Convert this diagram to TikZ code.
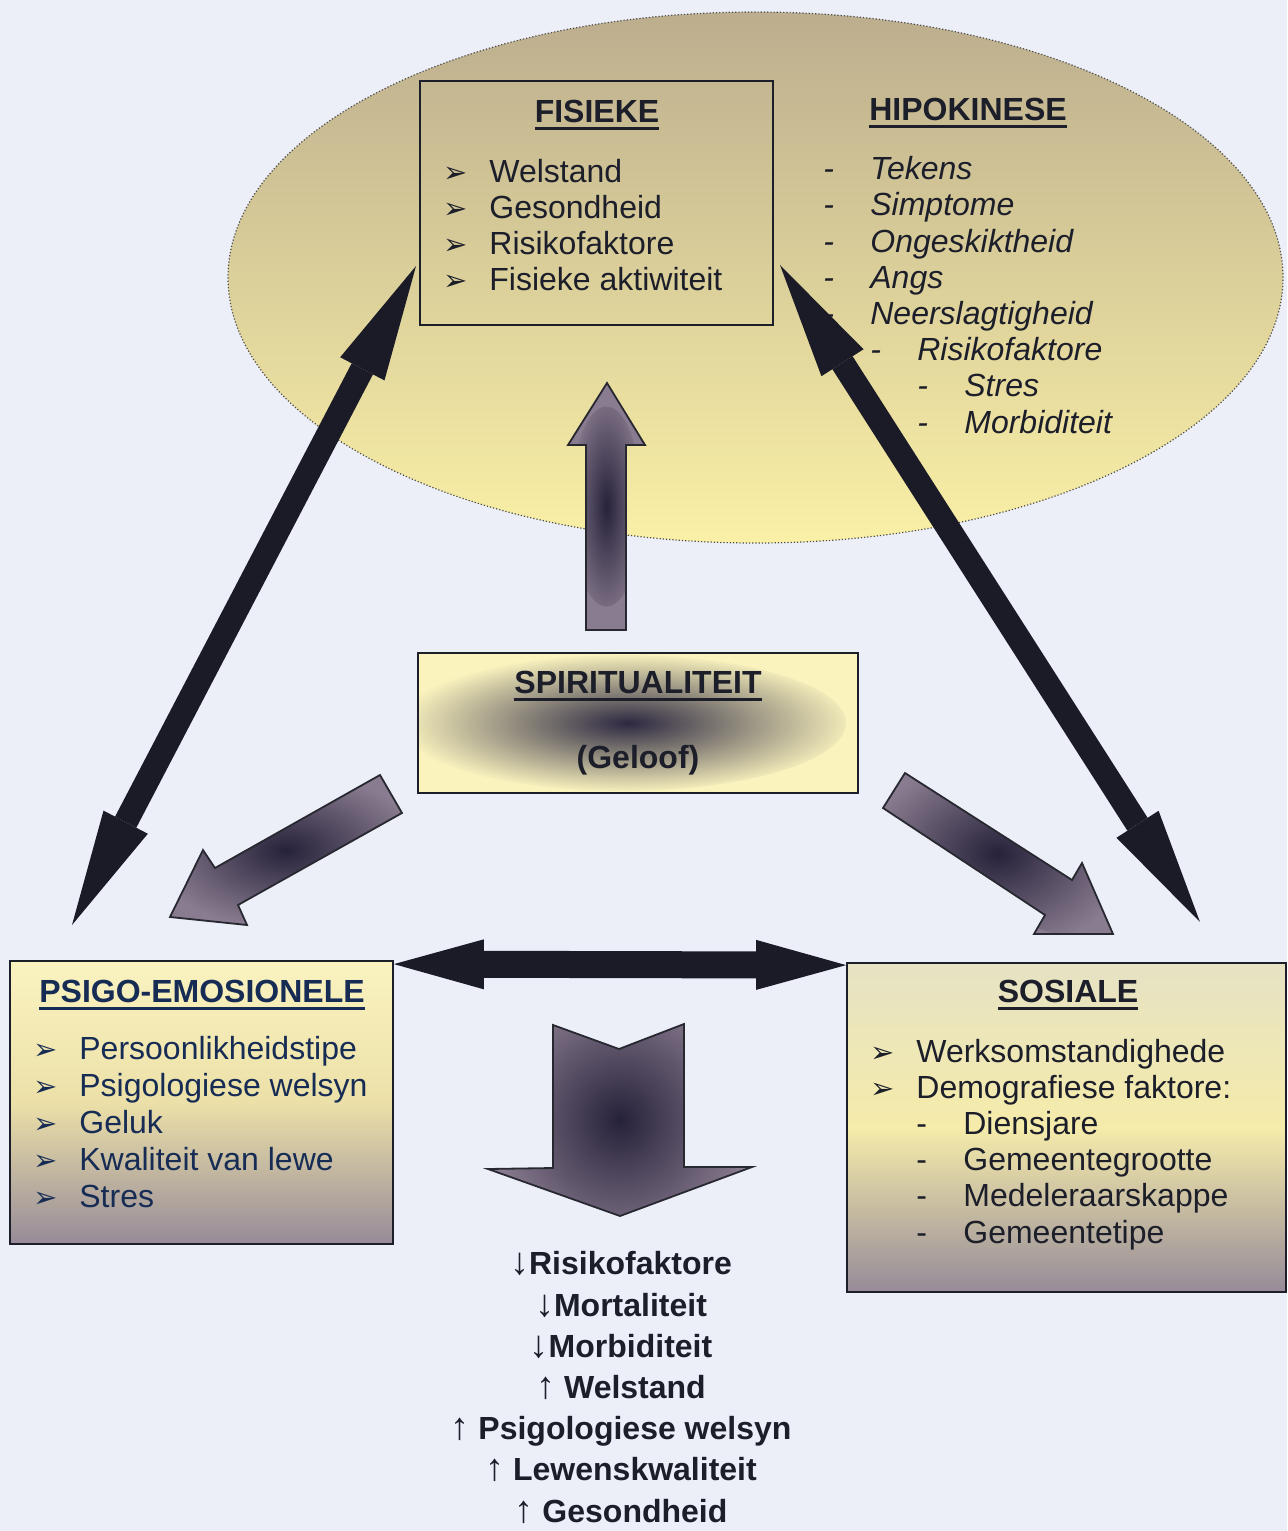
\documentclass[tikz,border=0pt]{standalone}
\usepackage{fontspec}
\setmainfont{Liberation Sans}
\newfontfamily\dingfont{DejaVu Sans}
\usetikzlibrary{arrows.meta,positioning,calc,shapes.geometric}
\definecolor{bgcol}{RGB}{236,239,248}
\definecolor{txt}{RGB}{28,30,42}
\definecolor{psitxt}{RGB}{22,44,84}
\definecolor{elltop}{RGB}{188,174,142}
\definecolor{ellbot}{RGB}{250,240,166}
\definecolor{boxtop}{RGB}{250,243,192}
\definecolor{boxmid}{RGB}{236,224,168}
\definecolor{boxbot}{RGB}{150,139,152}
\definecolor{sostop}{RGB}{230,226,196}
\definecolor{sosmid}{RGB}{245,235,170}
\definecolor{spfill}{RGB}{250,243,190}
\definecolor{spdark}{RGB}{45,40,65}
\definecolor{arrlight}{RGB}{138,124,144}
\definecolor{arrdark}{RGB}{38,34,58}
\definecolor{arrline}{RGB}{40,40,48}
\definecolor{blkarr}{RGB}{26,27,38}
\newcommand{\bul}{\makebox[23pt][l]{\dingfont\fontsize{14.5}{14.5}\selectfont ➢}}
\newcommand{\dsh}{\makebox[23.5pt][l]{-}}
\newcommand{\hul}[1]{\leavevmode\setbox0=\hbox{#1}\rlap{\rule[-3.8pt]{\wd0}{1.5pt}}\box0}
\newcommand{\pyl}[1]{{\mdseries\fontsize{19}{19}\selectfont #1}}
\tikzset{
  panel/.style={draw=txt, line width=0.9pt, inner sep=0pt},
  hdr/.style={anchor=base, inner sep=0pt, font=\fontsize{16}{18}\selectfont\bfseries, text=txt},
  lst/.style={anchor=base west, align=left, inner sep=0pt, font=\fontsize{16}{18}\selectfont, text=txt},
  blk/.style={draw=blkarr, line width=#1,
    {Triangle[length=58pt,width=25pt,line width=0pt]}-{Triangle[length=58pt,width=25pt,line width=0pt]}},
  blockarr/.style n args={3}{draw=arrline, line width=0.9pt, line join=miter, fill=arrlight,
    path picture={\shade[inner color=arrdark, outer color=arrlight,
      rotate around={#1:(path picture bounding box.center)}]
      (path picture bounding box.center) ellipse [x radius=#2, y radius=#3];}},
}
\begin{document}
\begin{tikzpicture}[x=0.5pt, y=-0.5pt]
  \useasboundingbox (0,0) rectangle (1287,1531);
  \fill[bgcol] (0,0) rectangle (1287,1531);

  % fisieke / hipokinese
  \node[ellipse, inner sep=0pt, minimum width=527.5pt, minimum height=265.5pt,
        top color=elltop, bottom color=ellbot, draw=black!70, densely dotted, line width=0.6pt] (hypo) at (755.5,277.5) {};
  \node[panel, minimum width=176.5pt, minimum height=122pt] (fis) at (596.5,203) {};
  \node[hdr] (fist) at (597,122) {\hul{FISIEKE}};
  \node[lst] (fisl) at (443,290) {\bul Welstand\\ \bul Gesondheid\\ \bul Risikofaktore\\ \bul Fisieke aktiwiteit};
  \node[hdr] (hipt) at (968,120) {\hul{HIPOKINESE}};
  \node[lst, font=\fontsize{16}{18.1}\selectfont\itshape] (hipl) at (823,433)
    {\dsh Tekens\\ \dsh Simptome\\ \dsh Ongeskiktheid\\ \dsh Angs\\ \dsh Neerslagtigheid\\
     \hspace*{23.5pt}\dsh Risikofaktore\\ \hspace*{47pt}\dsh Stres\\ \hspace*{47pt}\dsh Morbiditeit};

  % spiritualiteit
  \node[panel, minimum width=220pt, minimum height=70pt, fill=spfill,
        path picture={\shade[inner color=spdark, outer color=spfill]
          ([xshift=-8pt]path picture bounding box.center) ellipse [x radius=112pt, y radius=34pt];}] (spi) at (638,723) {};
  \node[hdr] (spit) at (638,693) {\hul{SPIRITUALITEIT}};
  \node[hdr] (gel) at (638,768) {(Geloof)};

  % psigo-emosionele
  \node[panel, minimum width=191.5pt, minimum height=141.5pt, top color=boxtop, bottom color=boxbot, middle color=boxmid] (psi) at (201.5,1102.5) {};
  \node[hdr, text=psitxt] (psit) at (202,1002) {\hul{PSIGO-EMOSIONELE}};
  \node[lst, text=psitxt, font=\fontsize{16}{18.4}\selectfont] (psil) at (33,1207)
    {\bul Persoonlikheidstipe\\ \bul Psigologiese welsyn\\ \bul Geluk\\ \bul Kwaliteit van lewe\\ \bul Stres};

  % sosiale
  \node[panel, minimum width=219.5pt, minimum height=164.5pt, top color=sostop, bottom color=boxbot, middle color=sosmid] (sos) at (1066.5,1127.5) {};
  \node[hdr] (sost) at (1068,1002) {\hul{SOSIALE}};
  \node[lst, font=\fontsize{16}{18.1}\selectfont] (sosl) at (870,1243)
    {\bul Werksomstandighede\\ \bul Demografiese faktore:\\ \hspace*{23pt}\dsh Diensjare\\ \hspace*{23pt}\dsh Gemeentegrootte\\
     \hspace*{23pt}\dsh Medeleraarskappe\\ \hspace*{23pt}\dsh Gemeentetipe};

  % uitkomste
  \node[anchor=base, align=center, inner sep=0pt, font=\fontsize{16}{20.6}\selectfont\bfseries, text=txt] (uit) at (621,1522)
    {\pyl{↓}Risikofaktore\\ \pyl{↓}Mortaliteit\\ \pyl{↓}Morbiditeit\\ \pyl{↑} Welstand\\
     \pyl{↑} Psigologiese welsyn\\ \pyl{↑} Lewenskwaliteit\\ \pyl{↑} Gesondheid};

  % blokpyle
  \path[blockarr={90}{50pt}{18pt}] (586,630) -- (586,445) -- (568,445) -- (607,383) -- (645,445) -- (626,445) -- (626,630) -- cycle;
  \path[blockarr={29}{70pt}{24pt}] (380,775) -- (215,868) -- (203,850) -- (170,917) -- (247,925) -- (238,905) -- (402,813) -- cycle;
  \path[blockarr={-33}{70pt}{24pt}] (905,773) -- (1072,880) -- (1082,863) -- (1113,934) -- (1034,934) -- (1045,915) -- (883,808) -- cycle;
  \path[blockarr={90}{68pt}{62pt}] (553,1025) -- (619,1049) -- (684,1024) -- (684,1167) -- (752,1167) -- (620,1216) -- (488,1169) -- (553,1168) -- cycle;

  % swart pyle
  \coordinate (lf) at (416,266);
  \coordinate (lp) at (72,925);
  \coordinate (rf) at (780,265);
  \coordinate (rs) at (1200,922);
  \draw[blk=12pt] (lf) -- (lp);
  \draw[blk=12pt] (rf) -- (rs);
  \draw[blk=13.5pt, {Triangle[length=45pt,width=25pt,line width=0pt]}-{Triangle[length=45pt,width=25pt,line width=0pt]}]
    ([yshift=-2pt]psi.north east) -- ([yshift=-1.5pt]sos.north west);
\end{tikzpicture}
\end{document}
